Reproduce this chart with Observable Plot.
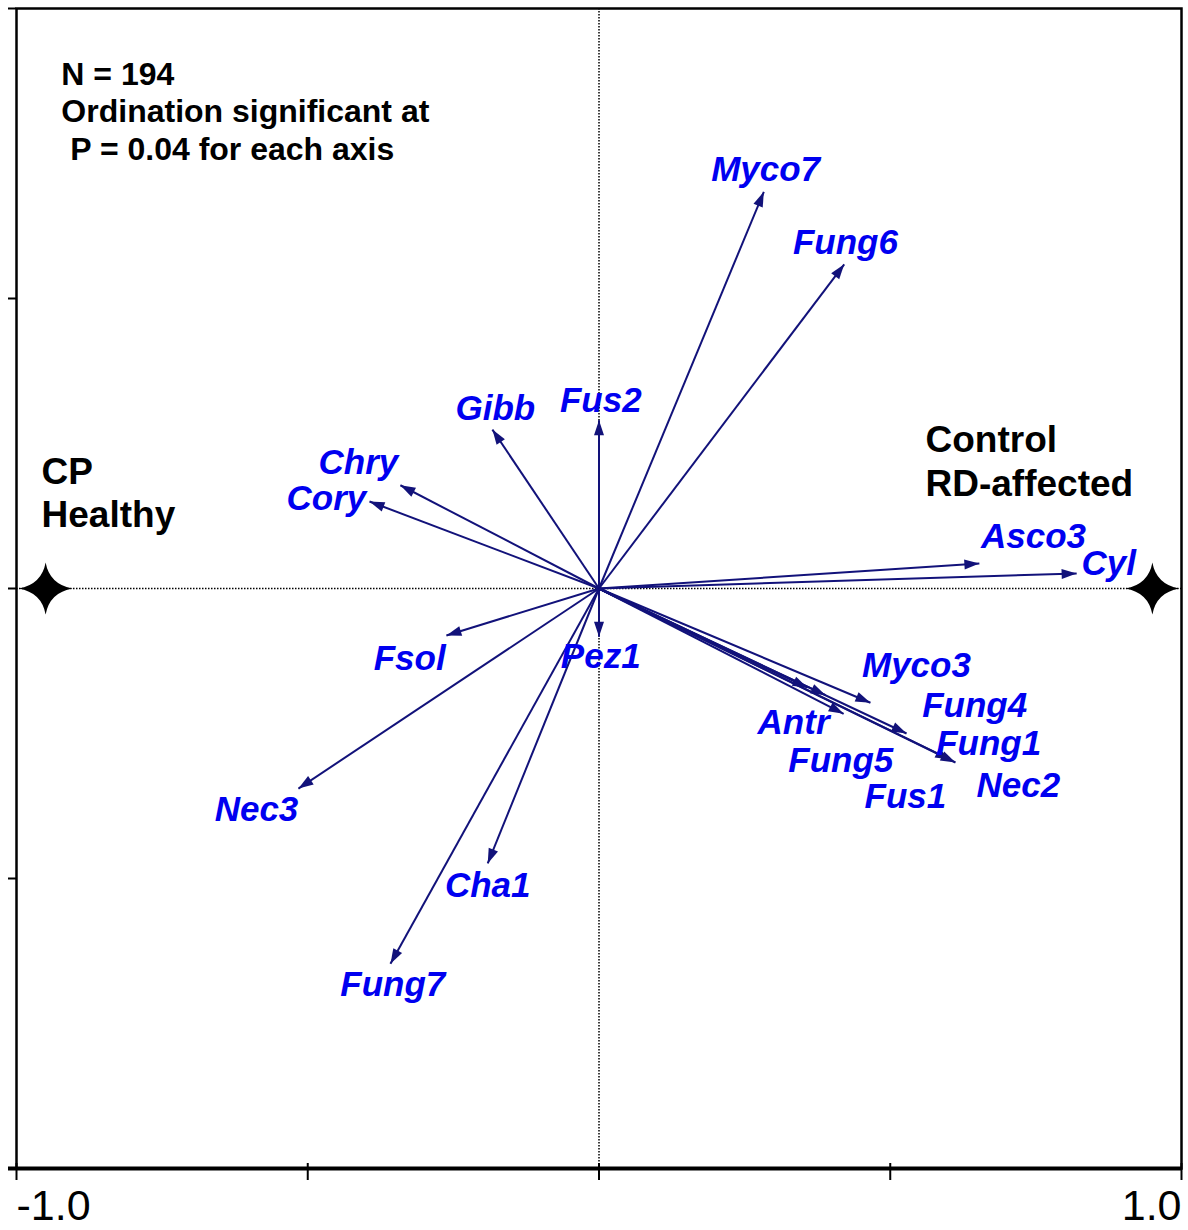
<!DOCTYPE html>
<html><head><meta charset="utf-8">
<script src="https://cdn.jsdelivr.net/npm/d3@7"></script>
<script src="https://cdn.jsdelivr.net/npm/@observablehq/plot@0.6"></script>
<style>body{margin:0;background:#fff}</style>
</head><body><div id="chart"></div>
<script>
// Species vectors (ordination axis scores)
const species = ["Myco7","Fung6","Fus2","Gibb","Chry","Cory","Fsol","Pez1","Nec3","Cha1","Fung7","Asco3","Cyl","Myco3","Antr","Fung5","Fus1","Fung4","Fung1","Nec2"];
const axis1 = [0.283, 0.421, 0.000, -0.183, -0.341, -0.394, -0.262, 0.000, -0.516, -0.191, -0.358, 0.653, 0.820, 0.466, 0.358, 0.389, 0.420, 0.528, 0.603, 0.612];
const axis2 = [0.684, 0.559, 0.290, 0.274, 0.178, 0.150, -0.081, -0.083, -0.345, -0.474, -0.647, 0.043, 0.026, -0.197, -0.171, -0.184, -0.216, -0.250, -0.295, -0.300];
// species label anchors (axis units)
const labelX = [0.286, 0.423, 0.003, -0.178, -0.413, -0.468, -0.325, 0.003, -0.588, -0.191, -0.354, 0.746, 0.875, 0.545, 0.334, 0.415, 0.526, 0.645, 0.669, 0.720];
const labelY = [0.722, 0.596, 0.324, 0.310, 0.216, 0.155, -0.121, -0.117, -0.381, -0.512, -0.684, 0.090, 0.043, -0.134, -0.231, -0.297, -0.359, -0.202, -0.267, -0.340];

// Treatment centroids
const groups = ["CP\nHealthy", "Control\nRD-affected"];
const groupX = [-0.95, 0.95];
const groupY = [0, 0];
const groupLabelX = [-0.957, 0.5605];
const groupLabelY = [0.234, 0.289];

// Note
const noteText = ["N = 194\nOrdination significant at\n\u00a0P = 0.04 for each axis"];
const noteX = [-0.923];
const noteY = [0.913];

// Axes
const xTicks = [-1, -0.5, 0, 0.5, 1];
const yTicks = [-1, -0.5, 0, 0.5, 1];
const xTickLabels = [{x: -1, label: "-1.0"}, {x: 1, label: "1.0"}];

const vectors = species.map((s, i) => ({name: s, x: axis1[i], y: axis2[i], lx: labelX[i], ly: labelY[i]}));
const groupData = groups.map((g, i) => ({name: g, x: groupX[i], y: groupY[i], lx: groupLabelX[i], ly: groupLabelY[i]}));
const notes = noteText.map((t, i) => ({text: t, x: noteX[i], y: noteY[i]}));

const navy = "#12127a";
const arrowHead = {draw(ctx) { ctx.moveTo(0, 0); ctx.lineTo(-15, -5); ctx.lineTo(-15, 5); ctx.closePath(); }};
const star4 = {draw(ctx) {
  ctx.moveTo(27, 0);
  ctx.quadraticCurveTo(4, 4, 0, 26);
  ctx.quadraticCurveTo(-4, 4, -27, 0);
  ctx.quadraticCurveTo(-4, -4, 0, -26);
  ctx.quadraticCurveTo(4, -4, 27, 0);
  ctx.closePath();
}};

const W = 1188, H = 1230;
const mL = 16, mR = 7, mT = 8, mB = 62;
const frameW = W - mL - mR, frameH = H - mT - mB;

const font = "'Liberation Sans', Arial, Helvetica, sans-serif";

const chart = Plot.plot({
  width: W, height: H,
  marginLeft: mL, marginRight: mR, marginTop: mT, marginBottom: mB,
  style: {fontFamily: font, background: "white", overflow: "visible"},
  x: {domain: [-1, 1], axis: null},
  y: {domain: [-1, 1], axis: null},
  marks: [
    Plot.ruleX([0], {stroke: "black", strokeWidth: 1.5, strokeDasharray: "1.5,1.5"}),
    Plot.ruleY([0], {stroke: "black", strokeWidth: 1.5, strokeDasharray: "1.5,1.5"}),
    Plot.frame({stroke: "black", strokeWidth: 2.5}),
    Plot.ruleY([-1], {stroke: "black", strokeWidth: 4, insetLeft: -8}),
    Plot.ruleX(xTicks, {stroke: "black", strokeWidth: 2, insetTop: frameH - 5, insetBottom: -12}),
    Plot.ruleY(yTicks, {stroke: "black", strokeWidth: 2, insetLeft: -8, insetRight: frameW}),
    Plot.link(vectors, {x1: 0, y1: 0, x2: "x", y2: "y", stroke: navy, strokeWidth: 2}),
    Plot.dot(vectors, {x: "x", y: "y", symbol: arrowHead, fill: navy, stroke: "none",
      rotate: d => Math.atan2(-d.y, d.x) * 180 / Math.PI}),
    Plot.text(vectors, {x: "lx", y: "ly", text: "name", fill: "#0000f0", fontSize: 35,
      fontWeight: "bold", fontStyle: "italic"}),
    Plot.dot(groupData, {x: "x", y: "y", symbol: star4, fill: "black", stroke: "none"}),
    Plot.text(groupData, {x: "lx", y: "ly", text: "name", fill: "black", fontSize: 37,
      fontWeight: "bold", textAnchor: "start", lineAnchor: "top", lineHeight: 1.18}),
    Plot.text(notes, {x: "x", y: "y", text: "text", fill: "black", fontSize: 32,
      fontWeight: "bold", textAnchor: "start", lineAnchor: "top", lineHeight: 1.16}),
    Plot.text(xTickLabels.filter(d => d.x < 0), {x: "x", y: () => -1, text: "label", fontSize: 43,
      textAnchor: "start", lineAnchor: "top", dy: 21, fill: "black"}),
    Plot.text(xTickLabels.filter(d => d.x > 0), {x: "x", y: () => -1, text: "label", fontSize: 43,
      textAnchor: "end", lineAnchor: "top", dy: 21, fill: "black"})
  ]
});
document.getElementById("chart").appendChild(chart);
</script>
</body></html>
